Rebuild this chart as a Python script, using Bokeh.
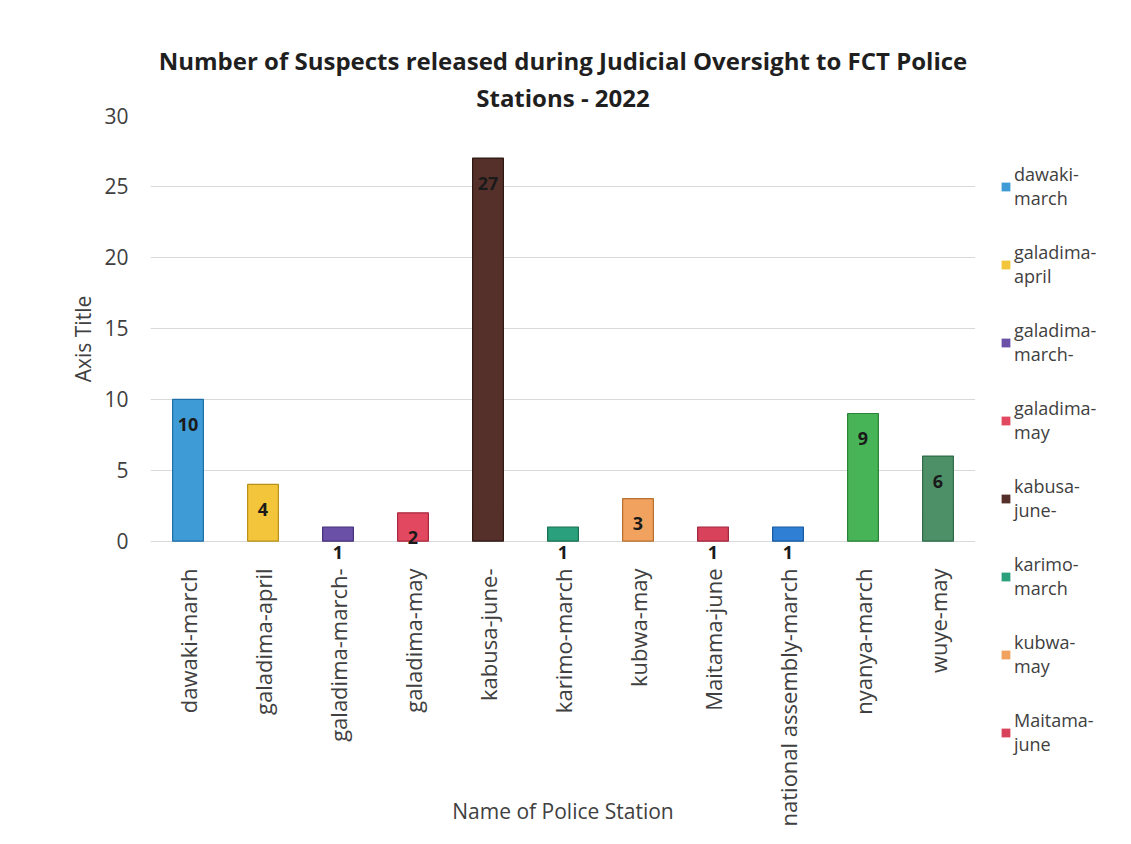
import math
from bokeh.plotting import figure
from bokeh.layouts import row
from bokeh.models import (ColumnDataSource, Range1d, FactorRange, Legend, LegendItem, Title)
from bokeh.core.properties import value
from bokeh.embed import file_html
from bokeh.resources import INLINE

stations = ["dawaki-march", "galadima-april", "galadima-march-", "galadima-may",
            "kabusa-june-", "karimo-march", "kubwa-may", "Maitama-june",
            "national assembly-march", "nyanya-march", "wuye-may"]
suspects = [10, 4, 1, 2, 27, 1, 3, 1, 1, 9, 6]
colors = ["#3f9bd6", "#f2c53a", "#6a50a6", "#e2485f", "#55302a", "#2aa07c",
          "#f0a25e", "#d9425b", "#2f80d4", "#47b457", "#4d9068"]
edges = ["#1f6fa8", "#b8901a", "#45327a", "#a82a40", "#2e1814", "#1a7050",
         "#b87030", "#a02a40", "#1a5aa0", "#2a8038", "#2f6a48"]
legend_labels = ["dawaki-\nmarch", "galadima-\napril", "galadima-\nmarch-", "galadima-\nmay",
                 "kabusa-\njune-", "karimo-\nmarch", "kubwa-\nmay", "Maitama-\njune"]
y_ticks = [0, 5, 10, 15, 20, 25, 30]

FONT = "Open Sans"
GREY = "#404040"

src = ColumnDataSource(dict(x=stations, top=suspects, color=colors, edge=edges,
                            lab=[str(v) for v in suspects]))

p = figure(x_range=FactorRange(*stations, range_padding=0), y_range=Range1d(-1.5, 30),
           width=975, height=828, output_backend="svg", toolbar_location=None,
           min_border_left=150, min_border_right=0, min_border_top=115,
           min_border_bottom=266, background_fill_color="white",
           border_fill_color="white", outline_line_color=None,
           title="Number of Suspects released during Judicial Oversight to FCT Police")

p.title.align = "center"
p.title.text_font = FONT
p.title.text_font_size = "24px"
p.title.text_font_style = "bold"
p.title.text_color = "#1f1f1f"
p.title.standoff = 0
p.add_layout(Title(text="Stations - 2022",
                   align="center", text_font=FONT, text_font_size="24px",
                   text_font_style="bold", text_color="#1f1f1f", standoff=4), "above")

r = p.vbar(x="x", top="top", bottom=0, width=0.41, source=src, fill_color="color",
           line_color="edge", line_width=1.2)

p.text(x="x", y="top", text="lab", source=src, y_offset=25, text_align="center",
       text_baseline="middle", text_font=value(FONT), text_font_size="18px",
       text_font_style="bold", text_color="#1a1a1a")

p.xgrid.grid_line_color = None
p.ygrid.grid_line_color = "#d9d9d9"
p.ygrid.ticker = y_ticks
p.yaxis.ticker = y_ticks

for ax in (p.xaxis[0], p.yaxis[0]):
    ax.axis_line_color = None
    ax.major_tick_line_color = None
    ax.minor_tick_line_color = None
    ax.major_label_text_font = FONT
    ax.major_label_text_color = GREY
    ax.axis_label_text_font = FONT
    ax.axis_label_text_font_size = "21px"
    ax.axis_label_text_font_style = "normal"
    ax.axis_label_text_color = GREY

p.yaxis.major_label_text_font_size = "21px"
p.xaxis.major_label_text_font_size = "22px"
p.yaxis.major_label_standoff = 16
p.yaxis.axis_label = "Axis Title"
p.yaxis.axis_label_standoff = 4
p.xaxis.major_label_orientation = math.pi / 2
p.xaxis.major_label_standoff = 0
p.xaxis.axis_label = "Name of Police Station"
p.xaxis.axis_label_standoff = -32

# legend panel: a second figure whose frame holds the legend
lp = figure(x_range=FactorRange(*stations), y_range=Range1d(100, 200),
            width=140, height=828, output_backend="svg", toolbar_location=None,
            min_border_left=0, min_border_right=0, min_border_top=115,
            min_border_bottom=0, outline_line_color=None,
            background_fill_color="white", border_fill_color="white")
lp.axis.visible = False
lp.grid.visible = False
lr = lp.vbar(x="x", top="top", bottom=0, width=0.41, source=src, fill_color="color",
             line_color="edge", line_alpha=0)

for fig in (p, lp):
    try:
        fig.frame_align = False
    except Exception:
        pass

items = [LegendItem(label=legend_labels[i], renderers=[lr], index=i)
         for i in range(len(legend_labels))]
legend = Legend(items=items, location="top_left", orientation="vertical",
                glyph_width=11, glyph_height=11, label_text_font=FONT,
                label_text_font_size="18px", label_text_color=GREY,
                label_text_line_height=0.98,
                spacing=30, padding=0, margin=25, border_line_color=None,
                background_fill_alpha=0, label_standoff=3, label_height=40,
                title=" ", title_text_font_size="8px", title_standoff=13)
lp.add_layout(legend, "center")

layout = row(p, lp)
open("out.html", "w").write(file_html(layout, INLINE))
